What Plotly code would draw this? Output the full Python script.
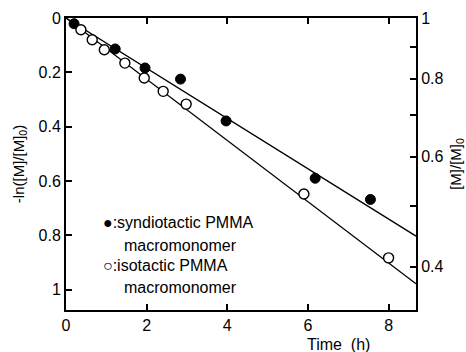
import numpy as np
import plotly.graph_objects as go

# Data
syn_time = [0.2, 1.22, 1.96, 2.84, 3.97, 6.18, 7.55]
syn_val = [0.021, 0.114, 0.184, 0.225, 0.379, 0.59, 0.668]
iso_time = [0.37, 0.65, 0.95, 1.46, 1.94, 2.41, 2.98, 5.90, 8.0]
iso_val = [0.043, 0.08, 0.117, 0.166, 0.221, 0.27, 0.317, 0.648, 0.883]
syn_rate = 0.0925   # slope of fitted line (h^-1)
iso_rate = 0.1127
x_ticks = [0, 2, 4, 6, 8]
left_ticks = [0, 0.2, 0.4, 0.6, 0.8, 1]
left_labels = ["0", "0.2", "0.4", "0.6", "0.8", "1"]
right_vals = [1, 0.8, 0.6, 0.4]
right_labels = ["1", "0.8", "0.6", "0.4"]
right_minor = [0.9, 0.7, 0.5]

x_range = [0, 8.68]
y_range = [1.075, 0]

fit_x = np.array(x_range)

fig = go.Figure()
fig.add_trace(go.Scatter(x=fit_x, y=syn_rate * fit_x, mode="lines",
                         line=dict(color="black", width=1.3), showlegend=False))
fig.add_trace(go.Scatter(x=fit_x, y=iso_rate * fit_x, mode="lines",
                         line=dict(color="black", width=1.3), showlegend=False))
fig.add_trace(go.Scatter(x=syn_time, y=syn_val, mode="markers",
                         marker=dict(symbol="circle", size=10, color="black",
                                     line=dict(color="black", width=1)),
                         showlegend=False))
fig.add_trace(go.Scatter(x=iso_time, y=iso_val, mode="markers",
                         marker=dict(symbol="circle", size=10, color="white",
                                     line=dict(color="black", width=1.4)),
                         showlegend=False))
# dummy trace for right axis
fig.add_trace(go.Scatter(x=[None], y=[None], yaxis="y2", showlegend=False))

font = dict(family="Liberation Sans, Arial, sans-serif", size=16, color="black")

fig.update_layout(
    width=466, height=352,
    margin=dict(l=66, r=50, t=18, b=42, autoexpand=False),
    paper_bgcolor="white", plot_bgcolor="white",
    font=font,
    showlegend=False,
    xaxis=dict(range=x_range, tickvals=x_ticks, ticks="inside", ticklen=6, tickwidth=1.5,
               tickcolor="black", showline=True, linecolor="black", linewidth=2,
               mirror="ticks", showgrid=False, zeroline=False, tickfont=font,
               automargin=False),
    yaxis=dict(range=y_range, tickvals=left_ticks, ticktext=left_labels, ticks="inside",
               ticklen=6, tickwidth=1.5, tickcolor="black", showline=True,
               linecolor="black", linewidth=2, showgrid=False, zeroline=False,
               tickfont=font, automargin=False,
               title=dict(text="-ln([M]/[M]<sub>0</sub>)", font=dict(size=15), standoff=10)),
    yaxis2=dict(range=y_range, overlaying="y", side="right",
                tickvals=[-np.log(v) for v in right_vals], ticktext=right_labels,
                ticks="inside", ticklen=6, tickwidth=1.5, tickcolor="black",
                minor=dict(tickmode="array", tickvals=[-np.log(v) for v in right_minor],
                           ticks="inside", ticklen=6, tickwidth=1.5, tickcolor="black"),
                showline=True, linecolor="black", linewidth=2, showgrid=False,
                zeroline=False, tickfont=font, automargin=False,
                title=dict(text="[M]/[M]<sub>0</sub>", font=dict(size=15), standoff=18)),
)

ann_font = dict(family="Liberation Sans, Arial, sans-serif", size=16, color="black")
anns = [
    ("\u25cf:syndiotactic PMMA", 101, 222),
    ("macromonomer", 122, 245),
    ("\u25cb:isotactic PMMA", 101, 265),
    ("macromonomer", 122, 287),
]
for text, px, py in anns:
    fig.add_annotation(text=text, xref="paper", yref="paper",
                       x=(px - 66) / 350, y=1 - (py - 18) / 292,
                       xanchor="left", yanchor="middle", showarrow=False, font=ann_font)

fig.add_annotation(text="Time  (h)", xref="paper", yref="paper",
                   x=(338 - 66) / 350, y=1 - (344 - 18) / 292,
                   xanchor="center", yanchor="middle", showarrow=False, font=ann_font)

fig.write_html("out.html")
